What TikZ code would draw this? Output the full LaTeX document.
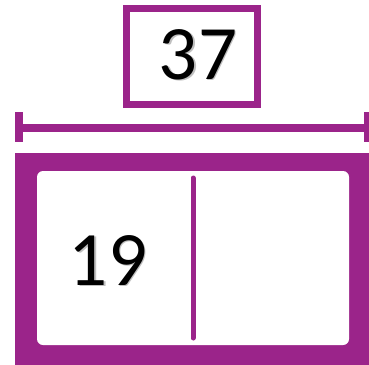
\documentclass[tikz,border=0pt]{standalone}
\usepackage{fontspec}
\setmainfont{Carlito}
\definecolor{plum}{RGB}{155,36,138}
\begin{document}
\begin{tikzpicture}[x=1pt,y=-1pt,
  numtext/.style={font=\fontsize{77}{80}\selectfont, text=black, inner sep=0pt},
  shadowtext/.style={font=\fontsize{77}{80}\selectfont, text=black!25, inner sep=0pt}]
\useasboundingbox (0,0) rectangle (369,364);
% top total box
\node[draw=plum, line width=7pt, fill=white, minimum width=131pt, minimum height=96pt, inner sep=0pt] (total) at (192,56.5) {};
\node[shadowtext] at (199.5,56) {37};
\node[numtext] (totaltext) at (198,54.5) {37};
% bracket
\coordinate (bl) at (15,127.5);
\coordinate (br) at (372,127.5);
\draw[plum, line width=8pt] (bl) -- (br);
\draw[plum, line width=8pt] (19,112) -- (19,142);
\draw[plum, line width=8pt] (368,112) -- (368,142);
% bar model
\fill[plum] (15,153) rectangle (372,368);
\node[fill=white, rounded corners=6pt, minimum width=312pt, minimum height=174pt, inner sep=0pt] (bar) at (193,258) {};
\coordinate (dtop) at (193,178);
\coordinate (dbot) at (193,338);
\draw[plum, line width=5pt, line cap=round] (dtop) -- (dbot);
\node[shadowtext] at (109.5,262) {19};
\node[numtext] (parttext) at (108,260.5) {19};
\end{tikzpicture}
\end{document}
